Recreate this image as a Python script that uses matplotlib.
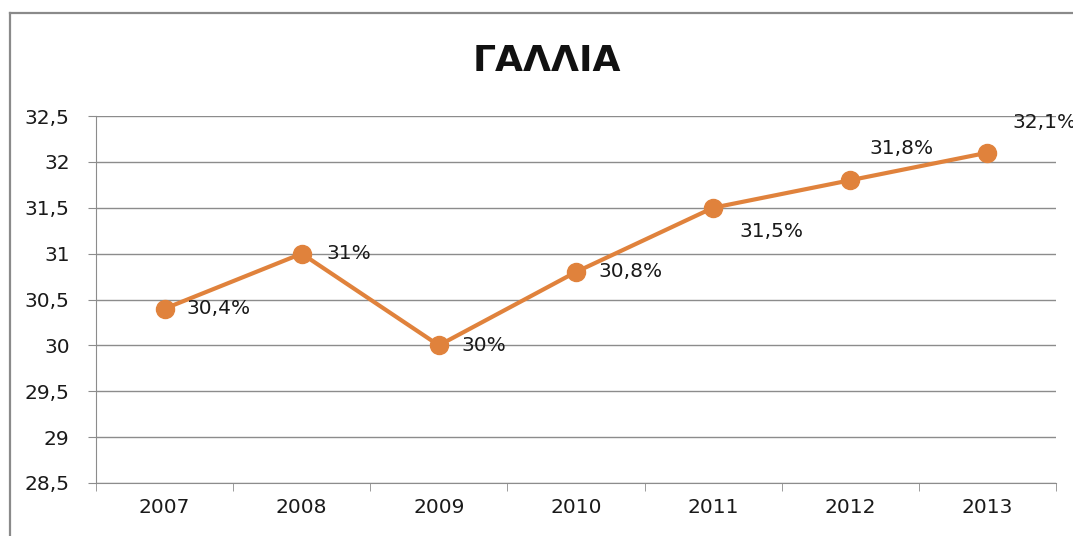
import numpy as np
import matplotlib.pyplot as plt
from matplotlib.lines import Line2D

years = ["2007", "2008", "2009", "2010", "2011", "2012", "2013"]
values = [30.4, 31.0, 30.0, 30.8, 31.5, 31.8, 32.1]
labels = ["30,4%", "31%", "30%", "30,8%", "31,5%", "31,8%", "32,1%"]
yticks = [28.5, 29, 29.5, 30, 30.5, 31, 31.5, 32, 32.5]
ytick_labels = ["28,5", "29", "29,5", "30", "30,5", "31", "31,5", "32", "32,5"]

orange = "#E0823C"
grid_col = "#8c8c8c"

fig = plt.figure(figsize=(10.73, 5.36), dpi=100)
ax = fig.add_axes([96 / 1073, 53 / 536, 960 / 1073, 367 / 536])

x = np.arange(len(years))
ax.plot(x, values, color=orange, lw=3, marker="o", ms=13, zorder=3)

# label offsets in points (px * 0.72)
offsets = [(16, 0), (18, 0), (16, 0), (16, 0), (19, -17), (14, 23), (18, 22)]
for xi, v, lab, off in zip(x, values, labels, offsets):
    ax.annotate(lab, (xi, v), xytext=off, textcoords="offset points",
                ha="left", va="center", fontsize=14.5, color="#1a1a1a",
                annotation_clip=False, clip_on=False)

ax.set_xlim(-0.5, 6.5)
ax.set_ylim(28.5, 32.5)
ax.set_yticks(yticks)
ax.set_yticklabels(ytick_labels, fontsize=14.5, color="#1a1a1a")
ax.set_xticks(x)
ax.set_xticklabels(years, fontsize=14.5, color="#1a1a1a")
ax.set_xticks(np.arange(-0.5, 7, 1), minor=True)
ax.tick_params(axis="x", which="major", length=0, pad=11)
ax.tick_params(axis="x", which="minor", length=6, color=grid_col, direction="out")
ax.tick_params(axis="y", length=6, color=grid_col, direction="out", pad=13)
ax.yaxis.grid(True, color=grid_col, lw=1)
ax.set_axisbelow(True)
for s in ["top", "right"]:
    ax.spines[s].set_visible(False)
ax.spines["left"].set_color(grid_col)
ax.spines["bottom"].set_color(grid_col)

fig.text(547 / 1073, 1 - 61 / 536, "ΓΑΛΛΙΑ", ha="center", va="center",
         fontsize=26, fontweight="bold", color="#111111")

# outer chart frame
fig.add_artist(Line2D([10 / 1073, 10 / 1073], [0, 1 - 13 / 536], color="#8a8a8a", lw=1.6))
fig.add_artist(Line2D([10 / 1073, 1], [1 - 13 / 536, 1 - 13 / 536], color="#8a8a8a", lw=1.6))

fig.savefig("out.png", dpi=100)
